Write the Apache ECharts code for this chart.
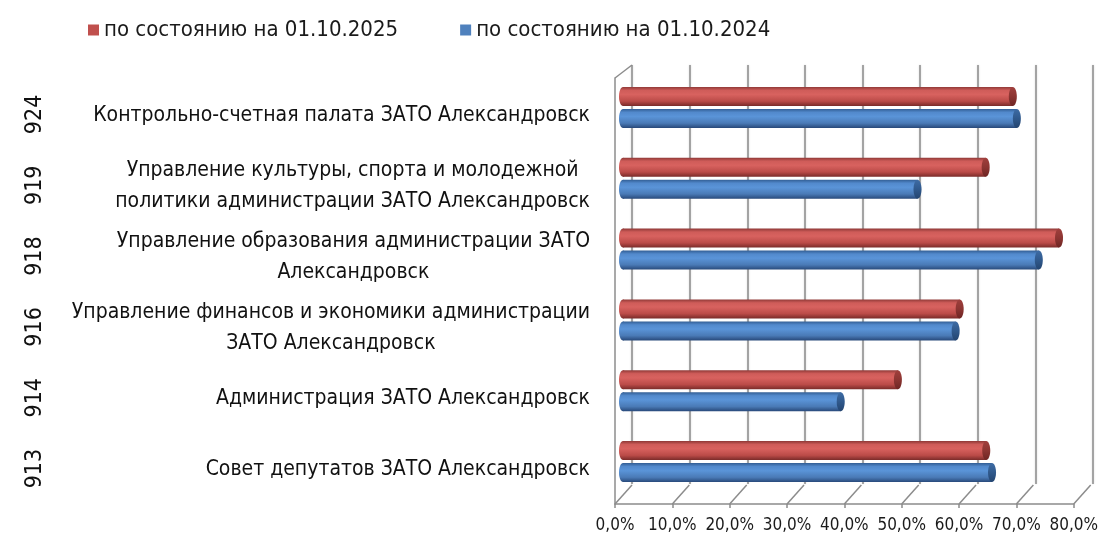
<!DOCTYPE html>
<html>
<head>
<meta charset="utf-8">
<script src="https://cdn.jsdelivr.net/npm/echarts@6/dist/echarts.min.js"></script>
<style>
  html, body { margin: 0; padding: 0; background: #fff; }
  #chart { width: 1101px; height: 535px; }
</style>
</head>
<body>
<div id="chart"></div>
<script>
// данные (сверху вниз)
const codes = ["924", "919", "918", "916", "914", "913"];
const names = [
  "Контрольно-счетная палата ЗАТО Александровск",
  "Управление культуры, спорта и молодежной\nполитики администрации ЗАТО Александровск",
  "Управление образования администрации ЗАТО\nАлександровск",
  "Управление финансов и экономики администрации\nЗАТО Александровск",
  "Администрация ЗАТО Александровск",
  "Совет депутатов ЗАТО Александровск",
];
const values2025 = [67.5, 62.8, 75.5, 58.3, 47.6, 62.9];
const values2024 = [68.2, 51.0, 72.0, 57.6, 37.7, 63.9];
const seriesNames = ["по состоянию на 01.10.2025", "по состоянию на 01.10.2024"];
const ticks = [0, 10, 20, 30, 40, 50, 60, 70, 80];

const FONT = "'Liberation Sans Narrow', 'DejaVu Sans Condensed', sans-serif";
const GRID_COLOR = "#8c8c8c";

const RED = {
  base: "#C0504D",
  body: [
    { offset: 0, color: "#8f3937" },
    { offset: 0.18, color: "#cf5c59" },
    { offset: 0.4, color: "#d8625f" },
    { offset: 0.75, color: "#bb4b48" },
    { offset: 1, color: "#7a2b29" },
  ],
  cap: [
    { offset: 0, color: "#a0403d" },
    { offset: 0.5, color: "#8c3532" },
    { offset: 1, color: "#6e2523" },
  ],
};
const BLUE = {
  base: "#4F81BD",
  body: [
    { offset: 0, color: "#325e94" },
    { offset: 0.18, color: "#5289cc" },
    { offset: 0.4, color: "#5a94d8" },
    { offset: 0.75, color: "#4a7ab6" },
    { offset: 1, color: "#28497a" },
  ],
  cap: [
    { offset: 0, color: "#3e6ca5" },
    { offset: 0.5, color: "#30598c" },
    { offset: 1, color: "#244570" },
  ],
};

// цилиндр (3D-полоса)
function cylinder(colors, shift) {
  return function (params, api) {
    const val = api.value(0);
    const cat = api.value(1);
    const start = api.coord([0, cat]);
    const end = api.coord([val, cat]);
    const h = 19;
    const rx = 4;
    const cy = start[1] + shift;
    const body = new echarts.graphic.LinearGradient(0, 0, 0, 1, colors.body);
    const cap = new echarts.graphic.LinearGradient(0, 0, 0, 1, colors.cap);
    return {
      type: "group",
      children: [
        { type: "ellipse", shape: { cx: start[0], cy: cy, rx: rx, ry: h / 2 }, style: { fill: body } },
        { type: "rect", shape: { x: start[0], y: cy - h / 2, width: end[0] - start[0], height: h }, style: { fill: body } },
        { type: "ellipse", shape: { cx: end[0], cy: cy, rx: rx, ry: h / 2 }, style: { fill: cap } },
      ],
    };
  };
}

// диагонали «пола» и левой стенки
function floorLines(params, api) {
  const p = api.coord([api.value(0), 0]);
  const children = [
    { type: "line", shape: { x1: p[0], y1: p[1], x2: p[0] + 17, y2: p[1] - 19 }, style: { stroke: GRID_COLOR, lineWidth: 1.5 } },
  ];
  if (api.value(0) === 0) {
    const t = api.coord([0, 1]);
    children.push({ type: "line", shape: { x1: t[0], y1: t[1], x2: t[0] + 17, y2: t[1] - 13 }, style: { stroke: GRID_COLOR, lineWidth: 1.5 } });
  }
  return { type: "group", children: children };
}

const chart = echarts.init(document.getElementById("chart"));

const option = {
  animation: false,
  textStyle: { fontFamily: FONT },
  legend: {
    left: 83,
    top: 14,
    itemWidth: 11,
    itemHeight: 11,
    itemGap: 62,
    data: [
      { name: seriesNames[0], icon: "rect" },
      { name: seriesNames[1], icon: "rect" },
    ],
    textStyle: { fontSize: 22, color: "#1a1a1a", fontFamily: FONT },
  },
  grid: [
    { left: 623, right: 16, top: 72, bottom: 38 }, // полосы
    { left: 632, right: 8, top: 65, bottom: 51 }, // задняя стенка
    { left: 615, right: 24, top: 78, bottom: 31 }, // передняя ось
  ],
  xAxis: [
    { gridIndex: 0, type: "value", min: 0, max: 80, interval: 10, show: false },
    {
      gridIndex: 1, type: "value", min: 0, max: 80, interval: 10,
      axisLine: { show: false }, axisTick: { show: false }, axisLabel: { show: false },
      splitLine: { show: true, lineStyle: { color: GRID_COLOR, width: 1.5, shadowBlur: 2, shadowColor: "rgba(0,0,0,0.2)" } },
    },
    {
      gridIndex: 2, type: "value", min: 0, max: 80, interval: 10,
      axisLine: { show: true, lineStyle: { color: GRID_COLOR, width: 1.5 } },
      axisTick: { show: true, length: 4, lineStyle: { color: GRID_COLOR, width: 1.5 } },
      splitLine: { show: false },
      axisLabel: {
        margin: 13,
        fontSize: 17,
        color: "#1a1a1a",
        fontFamily: FONT,
        formatter: (v) => v.toFixed(1).replace(".", ",") + "%",
      },
    },
  ],
  yAxis: [
    {
      gridIndex: 0, type: "category", data: names, inverse: true,
      axisLine: { show: false }, axisTick: { show: false }, splitLine: { show: false },
      axisLabel: {
        margin: 33,
        padding: [16, 0, 0, 0],
        formatter: (v) => v.split("\n").map((s) => "{c|" + s + "}").join("\n"),
        rich: {
          c: { align: "center", fontSize: 21, lineHeight: 31, color: "#111", fontFamily: FONT },
        },
      },
    },
    {
      gridIndex: 0, type: "category", data: codes, inverse: true, position: "left", offset: 568,
      axisLine: { show: false }, axisTick: { show: false }, splitLine: { show: false },
      axisLabel: { rotate: 90, margin: 8, padding: [0, 14, 0, 0], fontSize: 23, color: "#111", fontFamily: FONT },
    },
    { gridIndex: 1, type: "value", min: 0, max: 1, show: false },
    {
      gridIndex: 2, type: "value", min: 0, max: 1,
      axisLine: { show: true, lineStyle: { color: GRID_COLOR, width: 1.5 } },
      axisTick: { show: false }, axisLabel: { show: false }, splitLine: { show: false },
    },
  ],
  series: [
    {
      name: seriesNames[0],
      type: "custom",
      xAxisIndex: 0,
      yAxisIndex: 0,
      clip: false,
      z: 5,
      itemStyle: { color: RED.base },
      renderItem: cylinder(RED, -11),
      data: values2025.map((v, i) => [v, i]),
    },
    {
      name: seriesNames[1],
      type: "custom",
      xAxisIndex: 0,
      yAxisIndex: 0,
      clip: false,
      z: 5,
      itemStyle: { color: BLUE.base },
      renderItem: cylinder(BLUE, 11),
      data: values2024.map((v, i) => [v, i]),
    },
    {
      type: "custom",
      xAxisIndex: 2,
      yAxisIndex: 3,
      silent: true,
      clip: false,
      z: 1,
      renderItem: floorLines,
      data: ticks.map((t) => [t, 0]),
    },
  ],
};

chart.setOption(option);
</script>
</body>
</html>
